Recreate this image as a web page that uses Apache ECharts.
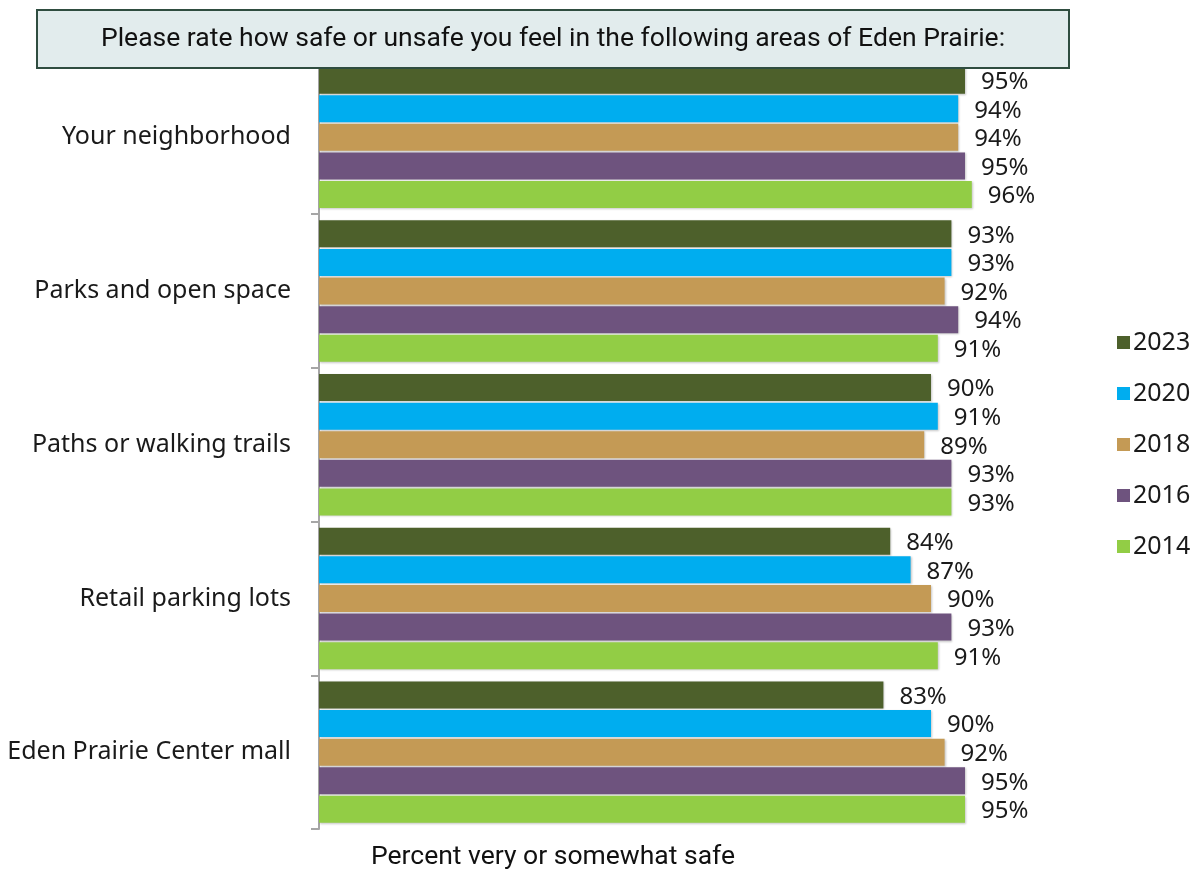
<!DOCTYPE html>
<html>
<head>
<meta charset="utf-8">
<script src="https://cdn.jsdelivr.net/npm/echarts@6/dist/echarts.min.js"></script>
<style>
  html, body { margin: 0; padding: 0; background: #ffffff; }
  #chart { width: 1199px; height: 869px; }
</style>
</head>
<body>
<div id="chart"></div>
<script>
// Survey areas, top to bottom
const areas = [
  'Your neighborhood',
  'Parks and open space',
  'Paths or walking trails',
  'Retail parking lots',
  'Eden Prairie Center mall'
];

// Survey years (legend order) and their colours
const years = ['2023', '2020', '2018', '2016', '2014'];
const yearColors = ['#4d602b', '#00adef', '#c49a55', '#6e537e', '#92cd45'];

// Percent very or somewhat safe, per year, in area order
const safe2023 = [95, 93, 90, 84, 83];
const safe2020 = [94, 93, 91, 87, 90];
const safe2018 = [94, 92, 89, 90, 92];
const safe2016 = [95, 94, 93, 93, 95];
const safe2014 = [96, 91, 93, 91, 95];

const seriesValues = [safe2023, safe2020, safe2018, safe2016, safe2014];

const questionText = 'Please rate how safe or unsafe you feel in the following areas of Eden Prairie:';
const axisTitle = 'Percent very or somewhat safe';

const FONT = '"Noto Sans", "Open Sans", sans-serif';

const chart = echarts.init(document.getElementById('chart'));

chart.setOption({
  animation: false,
  backgroundColor: '#ffffff',
  grid: { left: 319, top: 60.5, width: 680, height: 768.5, containLabel: false },
  xAxis: {
    type: 'value',
    min: 0,
    max: 100,
    show: false
  },
  yAxis: {
    type: 'category',
    data: areas,
    inverse: true,
    axisLine: { show: true, lineStyle: { color: '#a6a6a6', width: 2 } },
    axisTick: { show: true, length: 8, lineStyle: { color: '#a6a6a6', width: 2 } },
    axisLabel: { margin: 28, fontFamily: FONT, fontSize: 25, color: '#1a1a1a' },
    splitLine: { show: false }
  },
  legend: {
    orient: 'vertical',
    left: 1112,
    top: 325,
    itemWidth: 13,
    itemHeight: 13,
    itemGap: 26,
    icon: 'rect',
    data: years,
    textStyle: { fontFamily: FONT, fontSize: 25, color: '#1a1a1a', lineHeight: 25, padding: [0, 0, 0, -2] }
  },
  series: years.map((y, i) => ({
    name: y,
    type: 'bar',
    data: seriesValues[i],
    barCategoryGap: '8%',
    barGap: '6%',
    itemStyle: {
      color: yearColors[i],
      shadowColor: 'rgba(0,0,0,0.22)',
      shadowBlur: 2,
      shadowOffsetX: 1,
      shadowOffsetY: 1
    },
    label: {
      show: true,
      position: 'right',
      distance: 16,
      formatter: '{c}%',
      fontFamily: FONT,
      fontSize: 24,
      color: '#1a1a1a',
      offset: [0, 2]
    }
  })),
  graphic: [
    {
      type: 'rect',
      z: 100,
      shape: { x: 37, y: 10, width: 1032, height: 58 },
      style: { fill: '#e2eced', stroke: '#2f4d40', lineWidth: 2 }
    },
    {
      type: 'text',
      z: 101,
      x: 553,
      y: 39,
      style: {
        text: questionText,
        font: '26.5px Roboto, sans-serif',
        fill: '#111111',
        textAlign: 'center',
        textVerticalAlign: 'middle'
      }
    },
    {
      type: 'text',
      z: 101,
      x: 553,
      y: 857,
      style: {
        text: axisTitle,
        font: '26.5px Roboto, sans-serif',
        fill: '#111111',
        textAlign: 'center',
        textVerticalAlign: 'middle'
      }
    }
  ]
});
</script>
</body>
</html>
